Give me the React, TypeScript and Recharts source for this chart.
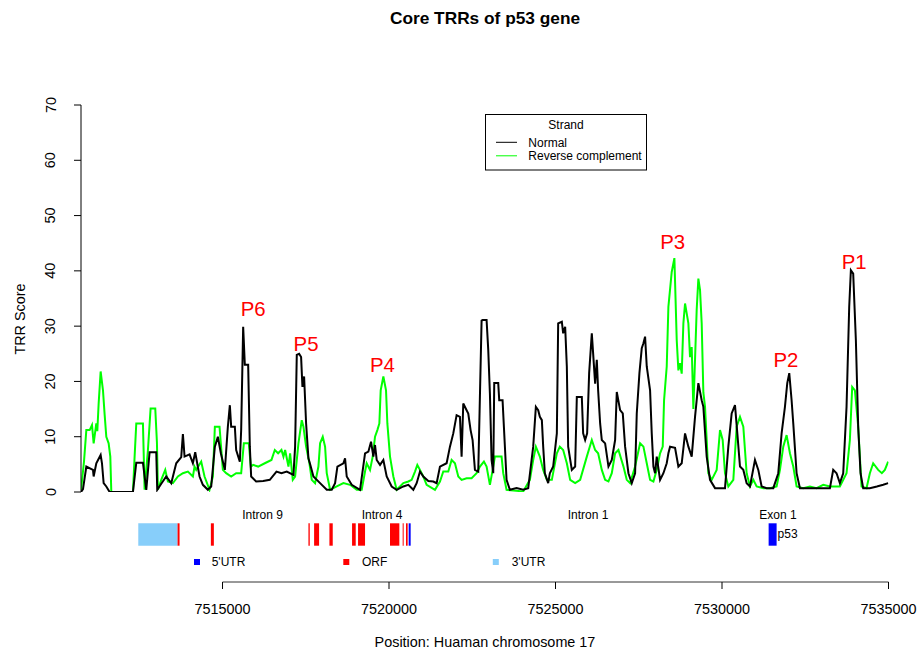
import React from 'react';
import { LineChart, Line, XAxis, YAxis, ReferenceArea, ReferenceDot, ReferenceLine } from 'recharts';

// ---------- data ----------
const normalPos = [
  7510750, 7510810, 7510910, 7511110, 7511130, 7511210, 7511340, 7511380, 7511430, 7511510, 7511610,
  7512310, 7512410, 7512610, 7512710, 7512810, 7513010, 7513040, 7513160, 7513310, 7513460, 7513610,
  7513760, 7513810, 7513860, 7514010, 7514110, 7514180, 7514310, 7514410, 7514560, 7514660, 7514770,
  7514860, 7514950, 7515070, 7515160, 7515220, 7515260, 7515370, 7515410, 7515520, 7515560, 7515620,
  7515670, 7515770, 7515820, 7515860, 7516010, 7516220, 7516420, 7516620, 7516770, 7516930, 7517130,
  7517180, 7517230, 7517300, 7517360, 7517400, 7517450, 7517510, 7517580, 7517650, 7517730, 7517930,
  7518130, 7518280, 7518380, 7518450, 7518630, 7518680, 7518730, 7518880, 7519130, 7519280, 7519380,
  7519460, 7519530, 7519580, 7519630, 7519730, 7519830, 7519930, 7520080, 7520230, 7520430, 7520580,
  7520730, 7520830, 7520930, 7521030, 7521180, 7521330, 7521430, 7521530, 7521730, 7521830, 7521930,
  7522030, 7522130, 7522180, 7522230, 7522330, 7522380, 7522450, 7522510, 7522580, 7522680, 7522780,
  7522810, 7522930, 7522980, 7523030, 7523080, 7523130, 7523160, 7523280, 7523310, 7523410, 7523450,
  7523530, 7523630, 7523830, 7524030, 7524180, 7524330, 7524410, 7524480, 7524530, 7524590, 7524630,
  7524680, 7524780, 7524830, 7524930, 7525040, 7525080, 7525190, 7525230, 7525290, 7525340, 7525380,
  7525490, 7525590, 7525640, 7525790, 7525830, 7525890, 7525950, 7526010, 7526090, 7526190, 7526240,
  7526280, 7526340, 7526390, 7526490, 7526590, 7526690, 7526790, 7526840, 7526940, 7527020, 7527090,
  7527190, 7527290, 7527390, 7527440, 7527520, 7527590, 7527640, 7527690, 7527740, 7527840, 7527890,
  7527940, 7527990, 7528040, 7528140, 7528240, 7528340, 7528390, 7528440, 7528590, 7528690, 7528790,
  7528890, 7528990, 7529090, 7529190, 7529290, 7529390, 7529440, 7529540, 7529640, 7529790, 7530090,
  7530190, 7530290, 7530390, 7530460, 7530540, 7530640, 7530740, 7530840, 7530990, 7531090, 7531190,
  7531340, 7531540, 7531690, 7531790, 7531890, 7531960, 7532020, 7532090, 7532140, 7532240, 7532340,
  7532940, 7533240, 7533340, 7533440, 7533540, 7533640, 7533740, 7533820, 7533870, 7533940, 7534020,
  7534090, 7534160, 7534240, 7534440, 7534650, 7534840, 7534990,
];
const normalScore = [
  0, 0.5, 4.6, 4.0, 2.8, 5.2, 6.7, 5.2, 1.6, 1.0, 0,
  0, 5.3, 5.3, 0.4, 7.2, 7.2, 0.4, 1.5, 2.8, 1.6, 5.2,
  6.3, 10.5, 6.4, 6.8, 5.2, 7.2, 2.8, 1.3, 0.4, 1.0, 8.2,
  10, 7.0, 4.0, 11.8, 15.7, 11.8, 11.8, 7.6, 5.5, 11.2, 29.9,
  23, 23, 8.2, 2.8, 1.9, 2.0, 2.2, 3.7, 3.4, 3.7, 3.1,
  8.2, 24.8, 25.0, 24.4, 19, 20.9, 12.4, 6.1, 4.6, 2.8, 1.6,
  0.4, 0.4, 1.6, 4.6, 5.2, 6.1, 2.8, 1.3, 0.4, 7.0, 7.3,
  9.1, 6.4, 8.5, 5.8, 4.9, 5.8, 2.8, 1.0, 0.4, 1.0, 1.3,
  0.4, 1.6, 3.7, 2.8, 2.0, 1.9, 1.6, 4.6, 5.2, 8.2, 10.6,
  13.9, 13.6, 6.4, 16, 14.8, 14.2, 11.2, 9.4, 4.0, 3.7, 31,
  31.1, 31.1, 25.7, 17.8, 5.8, 3.4, 19.7, 19.7, 16.6, 16.6, 11.8,
  2.2, 0.4, 0.7, 0.4, 0.7, 8.2, 15.4, 14.8, 13.6, 13, 8.2,
  3.4, 1.6, 3.4, 4.6, 10.6, 30.5, 30.8, 28.7, 29.9, 22.7, 8.2,
  4.0, 4.6, 17.2, 17.2, 10.6, 9.4, 10.6, 21.5, 28.7, 19.6, 23.9,
  18.4, 12.4, 9.4, 8.8, 4.6, 5.8, 9.4, 18.1, 14.8, 14.2, 8.2,
  3.4, 1.6, 3.4, 14.2, 21.5, 26, 26.9, 28.1, 22.7, 18.4, 10.6,
  4.6, 3.4, 6.4, 2.2, 3.4, 5.2, 7.0, 8.2, 8.0, 4.6, 5.2,
  10.6, 8.2, 6.4, 13.6, 19.7, 16.6, 15.4, 6.4, 2.2, 0.7, 0.7,
  8.2, 14.2, 15.7, 10.6, 4.6, 4.0, 1.6, 1.0, 5.8, 4.0, 1.0,
  0.7, 0.7, 3.4, 10.6, 15.4, 19.7, 21.5, 16.6, 12.4, 3.4, 0.7,
  0.7, 0.7, 4.0, 3.4, 1.6, 3.4, 15.4, 33.5, 40.1, 39.5, 27.5,
  11.8, 3.4, 0.7, 0.7, 1.0, 1.3, 1.6,
];

const reversePos = [
  7510750, 7510840, 7510910, 7511010, 7511080, 7511130, 7511210, 7511240, 7511280, 7511340, 7511410,
  7511460, 7511510, 7511580, 7511630, 7511660, 7512310, 7512360, 7512410, 7512610, 7512660, 7512760,
  7512840, 7512980, 7513030, 7513060, 7513160, 7513280, 7513360, 7513510, 7513660, 7513810, 7513960,
  7514110, 7514160, 7514210, 7514360, 7514460, 7514610, 7514710, 7514770, 7514910, 7515010, 7515110,
  7515260, 7515410, 7515560, 7515640, 7515790, 7515850, 7515920, 7516070, 7516270, 7516470, 7516570,
  7516670, 7516770, 7516830, 7516880, 7516980, 7517030, 7517110, 7517180, 7517280, 7517380, 7517430,
  7517510, 7517610, 7517680, 7517780, 7517880, 7517930, 7518010, 7518080, 7518130, 7518230, 7518430,
  7518630, 7518830, 7519030, 7519180, 7519280, 7519330, 7519430, 7519510, 7519580, 7519650, 7519710,
  7519750, 7519830, 7519910, 7519950, 7520030, 7520130, 7520230, 7520430, 7520580, 7520680, 7520780,
  7520850, 7520930, 7521030, 7521130, 7521380, 7521530, 7521630, 7521780, 7521880, 7521980, 7522080,
  7522180, 7522330, 7522480, 7522630, 7522730, 7522850, 7522930, 7523030, 7523130, 7523180, 7523380,
  7523430, 7523530, 7524030, 7524230, 7524330, 7524410, 7524530, 7524630, 7524740, 7524890, 7525040,
  7525130, 7525230, 7525340, 7525440, 7525590, 7525740, 7525940, 7526090, 7526190, 7526280, 7526390,
  7526490, 7526590, 7526690, 7526790, 7526890, 7527040, 7527140, 7527240, 7527390, 7527540, 7527640,
  7527740, 7527840, 7527940, 7528040, 7528140, 7528220, 7528260, 7528340, 7528390, 7528490, 7528570,
  7528640, 7528690, 7528740, 7528790, 7528840, 7528890, 7528940, 7528990, 7529040, 7529090, 7529140,
  7529240, 7529290, 7529340, 7529390, 7529440, 7529490, 7529540, 7529590, 7529690, 7529840, 7529940,
  7530020, 7530090, 7530190, 7530340, 7530440, 7530540, 7530640, 7530740, 7530840, 7530940, 7531040,
  7531240, 7531440, 7531640, 7531740, 7531840, 7531940, 7532040, 7532140, 7532240, 7532440, 7532640,
  7532840, 7533040, 7533240, 7533540, 7533740, 7533840, 7533910, 7533990, 7534090, 7534140, 7534190,
  7534340, 7534440, 7534540, 7534690, 7534800, 7534890, 7534990,
];
const reverseScore = [
  0.3, 5.5, 11.2, 11.2, 12.1, 8.8, 12.4, 11, 16, 21.8, 18.4,
  14, 10, 8.8, 6.4, 0, 0, 6.4, 12.4, 12.4, 0.4, 7.6,
  15.1, 15.1, 9, 0.4, 2.2, 4.0, 1.9, 1.6, 2.8, 3.4, 3.7,
  2.8, 4.6, 4.0, 5.5, 2.8, 0.4, 2.8, 11.8, 11.8, 4.0, 3.4,
  2.8, 3.4, 3.4, 8.8, 8.8, 4.6, 4.9, 4.6, 5.2, 5.8, 7.6,
  7.0, 7.6, 6.4, 7.6, 4.6, 7.0, 2.2, 2.8, 8.8, 13.0, 11.8,
  8.2, 5.2, 2.2, 1.6, 4.6, 8.8, 10.0, 8.2, 3.4, 0.4, 1.0,
  1.6, 1.3, 0.4, 0.4, 3.7, 5.2, 4.0, 6.4, 10.0, 11.2, 12.4,
  18.4, 20.9, 18.4, 12.4, 6.4, 2.8, 0.4, 1.6, 1.9, 2.2, 3.7,
  4.9, 4.0, 2.8, 1.3, 0.4, 1.9, 3.7, 3.7, 5.8, 5.2, 2.8,
  2.2, 2.5, 2.5, 3.4, 4.6, 5.5, 4.6, 1.3, 4.6, 6.4, 6.4,
  3.4, 0.4, 0.1, 2.2, 5.8, 8.2, 6.4, 4.0, 2.2, 2.2, 7.0,
  8.2, 7.6, 5.2, 2.2, 1.6, 2.2, 6.4, 9.4, 7.6, 7.0, 4.0,
  2.2, 1.9, 3.4, 7.0, 7.6, 4.6, 2.2, 1.6, 4.6, 8.8, 8.2,
  5.2, 2.2, 1.9, 4.0, 7.0, 8.2, 16.6, 22.7, 33.5, 39.8, 42.3,
  27.5, 22.0, 23.3, 21.4, 30.5, 34.1, 32.3, 30.5, 24.4, 26.2, 15,
  33, 38.6, 36.5, 30.5, 18, 15.4, 9.4, 3.4, 2.2, 4.0, 11.2,
  9.4, 3.4, 1.0, 2.2, 11.8, 13.6, 11.8, 3.4, 1.0, 2.2, 1.0,
  0.7, 0.7, 1.0, 4.0, 8.2, 10.3, 7.0, 4.6, 1.0, 0.7, 1.0,
  0.7, 1.3, 1.0, 1.0, 3.4, 9.4, 19.0, 18.4, 11.8, 6.4, 1.0,
  0.7, 3.4, 5.2, 4.0, 3.4, 4.0, 5.5,
];

// gene structure blocks: start, end, feature type
const blockStart = [7512470, 7513650, 7514650, 7517580, 7517750, 7518210, 7518890, 7519070, 7520030, 7520410, 7520510, 7520590, 7531400];
const blockEnd   = [7513650, 7513710, 7514740, 7517620, 7517900, 7518310, 7519000, 7519280, 7520310, 7520440, 7520560, 7520650, 7531640];
const blockType  = ['3UTR', 'ORF', 'ORF', 'ORF', 'ORF', 'ORF', 'ORF', 'ORF', 'ORF', 'ORF', 'ORF', '5UTR', '5UTR'];

const regionNames = ['Intron 9', 'Intron 4', 'Intron 1', 'Exon 1'];
const regionPos = [7516200, 7519790, 7525980, 7531680];

const peakNames = ['P1', 'P2', 'P3', 'P4', 'P5', 'P6'];
const peakPos = [7533970, 7531920, 7528520, 7519800, 7517510, 7515920];
const peakLabelScore = [41.6, 24.0, 45.2, 23.0, 26.9, 33.1];

const xTicks = [7515000, 7520000, 7525000, 7530000, 7535000];
const yTicks = [0, 10, 20, 30, 40, 50, 60, 70];

const featureNames = ["5'UTR", 'ORF', "3'UTR"];

// ---------- layout / style ----------
const FONT = '"Liberation Sans", Arial, Helvetica, sans-serif';
const W = 919;
const H = 652;
const X_MIN = 7510750;
const X_MAX = 7535000;
const PLOT_TOP = 105;
const PLOT_BOTTOM = 492;
const Y_MAX = 70;
// convert a pixel row below the plot into the y-units used by the scale
const yAt = (py: number) => ((PLOT_BOTTOM - py) * Y_MAX) / (PLOT_BOTTOM - PLOT_TOP);

const featureColor: Record<string, string> = { '5UTR': '#0000FF', ORF: '#FF0000', '3UTR': '#87CEFA' };
const legendColors = ['#0000FF', '#FF0000', '#87CEFA'];

const normalData = normalPos.map((p, i) => ({ pos: p, score: normalScore[i] }));
const reverseData = reversePos.map((p, i) => ({ pos: p, score: reverseScore[i] }));

const XTick = (p: any) => (
  <g>
    <line x1={p.x} x2={p.x} y1={582} y2={589} stroke="#000" strokeWidth={1} />
    <text x={p.x} y={613.5} textAnchor="middle" fontSize={14.4} fontFamily={FONT} fill="#000">
      {p.payload.value}
    </text>
  </g>
);

const YTick = (p: any) => (
  <text
    x={55.5}
    y={p.y}
    transform={`rotate(-90 55.5 ${p.y})`}
    textAnchor="middle"
    fontSize={14.4}
    fontFamily={FONT}
    fill="#000"
  >
    {p.payload.value}
  </text>
);

export default function App() {
  return (
    <div style={{ position: 'absolute', left: 0, top: 0, width: W, height: H, background: '#fff', fontFamily: FONT }}>
      <LineChart width={W} height={H} margin={{ top: PLOT_TOP, right: 30.5, bottom: 130, left: 0 }}>
        <XAxis
          type="number"
          dataKey="pos"
          domain={[X_MIN, X_MAX]}
          allowDataOverflow
          ticks={xTicks}
          interval={0}
          height={30}
          axisLine={false}
          tickLine={false}
          tick={<XTick />}
        />
        <YAxis
          type="number"
          domain={[0, Y_MAX]}
          ticks={yTicks}
          interval={0}
          width={81}
          allowDataOverflow
          axisLine={{ stroke: '#000', strokeWidth: 1 }}
          tickLine={{ stroke: '#000', strokeWidth: 1 }}
          tickSize={7}
          tick={<YTick />}
        />
        <ReferenceLine
          segment={[{ x: xTicks[0], y: yAt(582) }, { x: xTicks[xTicks.length - 1], y: yAt(582) }]}
          stroke="#333"
          strokeWidth={1}
          ifOverflow="visible"
        />
        {blockStart.map((s, i) => (
          <ReferenceArea
            key={'b' + i}
            x1={s}
            x2={blockEnd[i]}
            y1={yAt(545.7)}
            y2={yAt(523.3)}
            fill={featureColor[blockType[i]]}
            fillOpacity={1}
            stroke="none"
            ifOverflow="visible"
          />
        ))}
        {regionNames.map((n, i) => (
          <ReferenceDot
            key={'r' + i}
            x={regionPos[i]}
            y={yAt(515)}
            r={0}
            fill="none"
            stroke="none"
            ifOverflow="visible"
            label={{ value: n, position: 'center', fontSize: 12, fill: '#000', fontFamily: FONT }}
          />
        ))}
        <ReferenceDot
          x={blockEnd[blockEnd.length - 1]}
          y={yAt(533.3)}
          r={0}
          fill="none"
          stroke="none"
          ifOverflow="visible"
          label={{ value: 'p53', position: 'right', offset: 1, fontSize: 12, fill: '#000', fontFamily: FONT }}
        />
        <Line
          data={reverseData}
          dataKey="score"
          type="linear"
          stroke="#00FF00"
          strokeWidth={2}
          dot={false}
          activeDot={false}
          isAnimationActive={false}
        />
        <Line
          data={normalData}
          dataKey="score"
          type="linear"
          stroke="#000000"
          strokeWidth={2}
          dot={false}
          activeDot={false}
          isAnimationActive={false}
        />
        {peakNames.map((n, i) => (
          <ReferenceDot
            key={'p' + i}
            x={peakPos[i]}
            y={peakLabelScore[i]}
            r={0}
            fill="none"
            stroke="none"
            ifOverflow="visible"
            label={{ value: n, position: 'center', fontSize: 20.4, fill: '#FF0000', fontFamily: FONT }}
          />
        ))}
      </LineChart>

      <svg
        width={W}
        height={H}
        style={{ position: 'absolute', left: 0, top: 0, pointerEvents: 'none' }}
        fontFamily={FONT}
      >
        <text x={485} y={24} textAnchor="middle" fontSize={17.3} fontWeight="bold" fill="#000">
          Core TRRs of p53 gene
        </text>
        <text x={485} y={646.5} textAnchor="middle" fontSize={14.4} fill="#000">
          Position: Huaman chromosome 17
        </text>
        <text x={25} y={319} transform="rotate(-90 25 319)" textAnchor="middle" fontSize={14.4} fill="#000">
          TRR Score
        </text>

        {/* strand legend */}
        <rect x={485.5} y={114.5} width={161} height={55.5} fill="#fff" stroke="#000" strokeWidth={1} />
        <text x={566} y={129.3} textAnchor="middle" fontSize={12} fill="#000">Strand</text>
        <line x1={496} x2={517} y1={142.3} y2={142.3} stroke="#000" strokeWidth={1} />
        <text x={528.3} y={146.5} fontSize={12} fill="#000">Normal</text>
        <line x1={496} x2={517} y1={155.8} y2={155.8} stroke="#00FF00" strokeWidth={1} />
        <text x={528.3} y={160} fontSize={12} fill="#000">Reverse complement</text>

        {/* feature legend */}
        {featureNames.map((n, i) => (
          <g key={n}>
            <rect x={[194, 343.3, 492.8][i]} y={559} width={6} height={6} fill={legendColors[i]} />
            <text x={[211.7, 362, 511.7][i]} y={566.3} fontSize={12} fill="#000">{n}</text>
          </g>
        ))}
      </svg>
    </div>
  );
}
